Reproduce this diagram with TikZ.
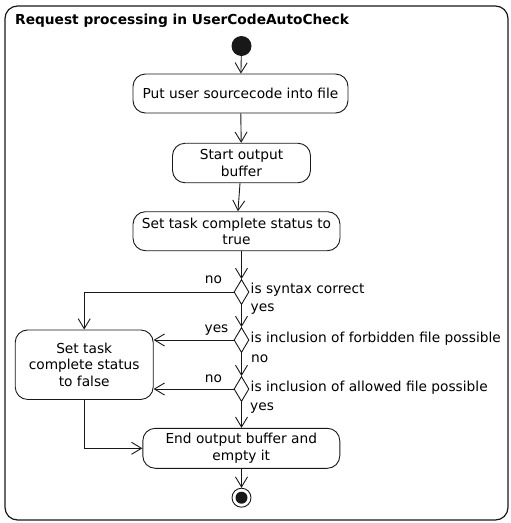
\documentclass[tikz,border=0pt]{standalone}
\usepackage{fontspec}
\setmainfont{DejaVu Sans}
\usetikzlibrary{arrows.meta,shapes.geometric}
\definecolor{ln}{HTML}{181818}
\tikzset{
  act/.style={draw=ln, line width=0.9pt, rounded corners=12.5pt, align=center, inner sep=0pt, font=\fontsize{13.75}{16.4}\selectfont},
  dec/.style={draw=ln, line width=0.9pt, diamond, minimum width=15pt, minimum height=25pt, inner sep=0pt},
  arr/.style={draw=ln, line width=0.9pt, -{Straight Barb[length=10pt,width=12pt,line width=0.9pt]}},
  lbl/.style={inner sep=0pt, font=\fontsize{13.75}{16}\selectfont},
}
\begin{document}
\begin{tikzpicture}[x=1pt,y=-1pt]
\useasboundingbox (0,0) rectangle (511,523);
\draw[draw=ln, line width=1.2pt, rounded corners=12.5pt] (5,6) rectangle (508,520);
\node[lbl, anchor=base west, font=\fontsize{13.75}{16}\selectfont\bfseries] (title) at (15,24) {Request processing in UserCodeAutoCheck};
\node[circle, fill=ln, minimum size=20pt, inner sep=0pt] (start) at (241.5,46) {};
\node[act, minimum width=215pt, minimum height=39pt] (b1) at (240.5,93.5) {Put user sourcecode into file};
\node[act, minimum width=138pt, minimum height=39.5pt] (b2) at (241.5,163) {Start output\\buffer};
\node[act, minimum width=207pt, minimum height=39pt] (b3) at (236.5,231.2) {Set task complete status to\\true};
\node[dec] (d1) at (241.5,292) {};
\node[dec] (d2) at (241.5,340) {};
\node[dec] (d3) at (241.5,389) {};
\node[act, minimum width=138pt, minimum height=69.5pt] (f) at (84.2,364.7) {Set task\\complete status\\to false};
\node[act, minimum width=197pt, minimum height=40pt] (e) at (241.3,448.3) {End output buffer and\\empty it};
\node[circle, draw=ln, line width=0.9pt, minimum size=19pt, inner sep=0pt] (stop) at (241.5,497.7) {};
\node[circle, fill=ln, minimum size=12pt, inner sep=0pt] (stopin) at (stop.center) {};
\draw[arr] (start) -- (b1);
\draw[arr] (b1) -- (b2);
\draw[arr] (b2) -- (b3);
\draw[arr] (b3.south -| d1) -- (d1.north);
\draw[arr] (d1.west) -| (f.north);
\draw[arr] (d1.south) -- (d2.north);
\draw[arr] (d2.west) -- (d2.west -| f.east);
\draw[arr] (d2.south) -- (d3.north);
\draw[arr] (d3.west) -- (d3.west -| f.east);
\draw[arr] (d3.south) -- (e.north -| d3);
\draw[arr] (f.south) |- (e.west);
\draw[arr] (e.south -| stop) -- (stop.north);
\node[lbl] (n1) at (213.5,280) {no};
\node[lbl, anchor=west] (c1) at (250.5,290) {is syntax correct};
\node[lbl, anchor=west] (y1) at (250.5,309.5) {yes};
\node[lbl] (y2) at (216.5,330) {yes};
\node[lbl, anchor=west] (c2) at (250.5,339) {is inclusion of forbidden file possible};
\node[lbl, anchor=west] (n2) at (251,359) {no};
\node[lbl] (n3) at (213.5,378.3) {no};
\node[lbl, anchor=west] (c3) at (250.5,387.7) {is inclusion of allowed file possible};
\node[lbl, anchor=west] (y3) at (250,408.3) {yes};
\end{tikzpicture}
\end{document}
